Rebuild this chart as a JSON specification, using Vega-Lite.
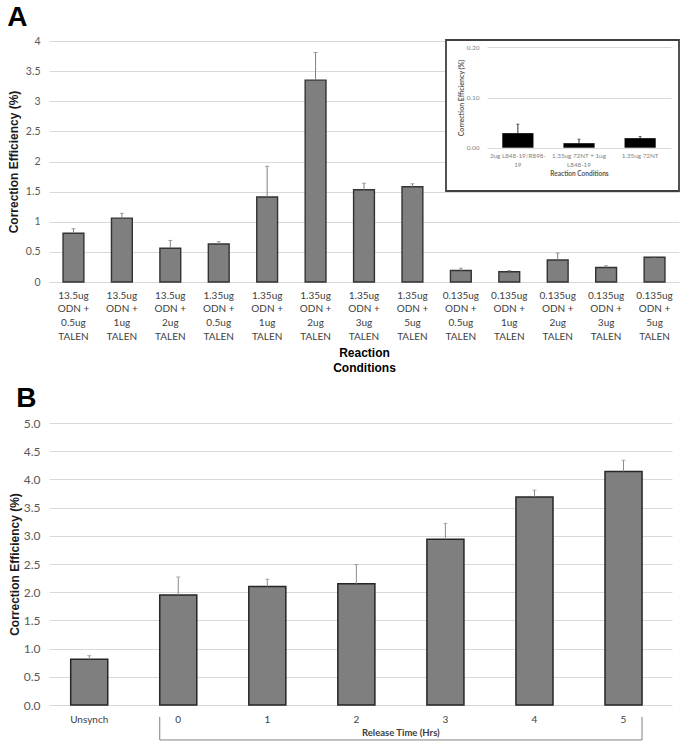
{
  "$schema": "https://vega.github.io/schema/vega-lite/v6.json",
  "background": "white",
  "padding": {"left": 7, "top": 4, "right": 0, "bottom": 4},
  "config": {
    "view": {"stroke": null},
    "axis": {"labelFont": "Lato", "titleFont": "Liberation Sans"}
  },
  "datasets": {
    "panelA": [
      {"condition": "13.5ug ODN + 0.5ug TALEN", "value": 0.81, "upper": 0.885},
      {"condition": "13.5ug ODN + 1ug TALEN", "value": 1.06, "upper": 1.14},
      {"condition": "13.5ug ODN + 2ug TALEN", "value": 0.56, "upper": 0.69},
      {"condition": "1.35ug ODN + 0.5ug TALEN", "value": 0.63, "upper": 0.67},
      {"condition": "1.35ug ODN + 1ug TALEN", "value": 1.41, "upper": 1.92},
      {"condition": "1.35ug ODN + 2ug TALEN", "value": 3.35, "upper": 3.81},
      {"condition": "1.35ug ODN + 3ug TALEN", "value": 1.53, "upper": 1.64},
      {"condition": "1.35ug ODN + 5ug TALEN", "value": 1.58, "upper": 1.63},
      {"condition": "0.135ug ODN + 0.5ug TALEN", "value": 0.19, "upper": 0.23},
      {"condition": "0.135ug ODN + 1ug TALEN", "value": 0.17, "upper": 0.19},
      {"condition": "0.135ug ODN + 2ug TALEN", "value": 0.365, "upper": 0.48},
      {"condition": "0.135ug ODN + 3ug TALEN", "value": 0.24, "upper": 0.27},
      {"condition": "0.135ug ODN + 5ug TALEN", "value": 0.41, "upper": 0.415}
    ],
    "inset": [
      {"condition": "2ug L848-19/R898-19", "value": 0.029, "upper": 0.047},
      {"condition": "1.35ug 72NT + 1ug L848-19", "value": 0.009, "upper": 0.017},
      {"condition": "1.35ug 72NT", "value": 0.019, "upper": 0.022}
    ],
    "panelB": [
      {"time": "Unsynch", "value": 0.81, "upper": 0.875},
      {"time": "0", "value": 1.95, "upper": 2.27},
      {"time": "1", "value": 2.10, "upper": 2.23},
      {"time": "2", "value": 2.15, "upper": 2.49},
      {"time": "3", "value": 2.94, "upper": 3.22},
      {"time": "4", "value": 3.69, "upper": 3.81},
      {"time": "5", "value": 4.14, "upper": 4.34}
    ]
  },
  "columns": 1,
  "align": "none",
  "spacing": 11,
  "concat": [
    {
      "title": {"text": "A", "anchor": "start", "font": "Liberation Sans", "fontSize": 28, "fontWeight": "bold", "color": "black", "offset": 4},
      "width": 630,
      "height": 241,
      "resolve": {"scale": {"x": "independent", "y": "independent"}, "axis": {"x": "independent", "y": "independent"}},
      "layer": [
        {
          "data": {"name": "panelA"},
          "encoding": {
            "x": {
              "field": "condition", "type": "nominal", "sort": null,
              "scale": {"paddingInner": 0.57, "paddingOuter": 0.29},
              "axis": {
                "labelExpr": "[split(datum.value, ' ')[0], split(datum.value, ' ')[1] + ' +', split(datum.value, ' ')[3], split(datum.value, ' ')[4]]",
                "labelAngle": 0, "labelFontSize": 10, "labelColor": "#404040", "labelLineHeight": 13.7,
                "labelPadding": 8, "labelOverlap": false, "labelBound": false,
                "ticks": false, "domain": false, "grid": false,
                "title": ["Reaction", "Conditions"], "titleFontSize": 12, "titleFontWeight": "bold",
                "titleColor": "black", "titleLineHeight": 15.3, "titlePadding": 6
              }
            }
          },
          "layer": [
            {
              "mark": {"type": "bar", "fill": "#7f7f7f", "stroke": "#333333", "strokeWidth": 1.4},
              "encoding": {
                "y": {
                  "field": "value", "type": "quantitative",
                  "scale": {"domain": [0, 4], "nice": false},
                  "axis": {
                    "orient": "left", "values": [0, 0.5, 1, 1.5, 2, 2.5, 3, 3.5, 4], "format": "~g",
                    "labelFontSize": 10.5, "labelColor": "#595959", "labelPadding": 9,
                    "ticks": false, "domain": false, "gridColor": "#d9d9d9",
                    "title": "Correction Efficiency (%)", "titleFontSize": 12, "titleFontWeight": "bold",
                    "titleColor": "#1a1a1a", "titlePadding": 5
                  }
                }
              }
            },
            {
              "mark": {"type": "rule", "color": "#7f7f7f", "strokeWidth": 1},
              "encoding": {
                "y": {
                  "field": "value", "type": "quantitative",
                  "scale": {"domain": [0, 4], "nice": false},
                  "axis": {
                    "orient": "left", "values": [0, 0.5, 1, 1.5, 2, 2.5, 3, 3.5, 4], "format": "~g",
                    "labelFontSize": 10.5, "labelColor": "#595959", "labelPadding": 9,
                    "ticks": false, "domain": false, "gridColor": "#d9d9d9",
                    "title": "Correction Efficiency (%)", "titleFontSize": 12, "titleFontWeight": "bold",
                    "titleColor": "#1a1a1a", "titlePadding": 5
                  }
                },
                "y2": {"field": "upper"}
              }
            },
            {
              "mark": {"type": "tick", "color": "#7f7f7f", "thickness": 1, "size": 4, "orient": "horizontal"},
              "encoding": {
                "y": {
                  "field": "upper", "type": "quantitative",
                  "scale": {"domain": [0, 4], "nice": false},
                  "axis": {
                    "orient": "left", "values": [0, 0.5, 1, 1.5, 2, 2.5, 3, 3.5, 4], "format": "~g",
                    "labelFontSize": 10.5, "labelColor": "#595959", "labelPadding": 9,
                    "ticks": false, "domain": false, "gridColor": "#d9d9d9",
                    "title": "Correction Efficiency (%)", "titleFontSize": 12, "titleFontWeight": "bold",
                    "titleColor": "#1a1a1a", "titlePadding": 5
                  }
                }
              }
            }
          ]
        },
        {
          "data": {"values": [{}]},
          "mark": {"type": "rect", "fill": "white", "stroke": "#404040", "strokeWidth": 1.8},
          "encoding": {
            "x": {"datum": 0, "type": "quantitative", "scale": {"domain": [0, 1], "range": [397, 630]}, "axis": null},
            "x2": {"datum": 1},
            "y": {"datum": 0, "type": "quantitative", "scale": {"domain": [0, 1], "range": [150, -1]}, "axis": null},
            "y2": {"datum": 1}
          }
        },
        {
          "data": {"name": "inset"},
          "encoding": {
            "x": {
              "field": "condition", "type": "nominal", "sort": null,
              "scale": {"range": [438, 622], "paddingInner": 0.49, "paddingOuter": 0.25},
              "axis": {
                "orient": "bottom", "offset": -134.3, "zindex": 1,
                "labelExpr": "datum.value == '2ug L848-19/R898-19' ? ['2ug L848-19/R898-', '19'] : datum.value == '1.35ug 72NT + 1ug L848-19' ? ['1.35ug 72NT + 1ug', 'L848-19'] : datum.value",
                "labelAngle": 0, "labelFontSize": 6.3, "labelColor": "#7f7f7f", "labelLineHeight": 9,
                "labelPadding": 4.5, "labelOverlap": false, "labelBound": false,
                "ticks": false, "domain": false, "grid": false,
                "title": "Reaction Conditions", "titleFont": "Lato", "titleFontSize": 6.5, "titleFontWeight": "bold",
                "titleColor": "#595959", "titlePadding": 3
              }
            }
          },
          "layer": [
            {
              "mark": {"type": "bar", "fill": "black"},
              "encoding": {
                "y": {
                  "field": "value", "type": "quantitative",
                  "scale": {"domain": [0, 0.2], "range": [106.7, 6.3], "nice": false},
                  "axis": {
                    "orient": "left", "offset": -438, "zindex": 1,
                    "values": [0, 0.1, 0.2], "format": ".2f",
                    "labelFontSize": 6.5, "labelColor": "#7f7f7f", "labelPadding": 8,
                    "ticks": false, "domain": false, "grid": true, "gridColor": "#d9d9d9",
                    "title": "Correction Efficiency (%)", "titleFont": "Lato", "titleFontSize": 7, "titleFontWeight": "bold",
                    "titleColor": "#595959", "titlePadding": 2
                  }
                }
              }
            },
            {
              "mark": {"type": "rule", "color": "black", "strokeWidth": 0.8},
              "encoding": {"y": {"field": "value", "type": "quantitative"}, "y2": {"field": "upper"}}
            },
            {
              "mark": {"type": "tick", "color": "black", "thickness": 0.8, "size": 3, "orient": "horizontal"},
              "encoding": {"y": {"field": "upper", "type": "quantitative"}}
            }
          ]
        }
      ]
    },
    {
      "title": {"text": "B", "anchor": "start", "font": "Liberation Sans", "fontSize": 28, "fontWeight": "bold", "color": "black", "offset": 4, "dx": 8},
      "width": 623,
      "height": 282,
      "encoding": {
        "x": {
          "field": "time", "type": "nominal", "sort": null,
          "scale": {"domain": ["Unsynch", "0", "1", "2", "3", "4", "5"], "paddingInner": 0.584, "paddingOuter": 0.29, "align": 0.42},
          "axis": {
            "labelAngle": 0, "labelFontSize": 10, "labelColor": "#404040", "labelPadding": 9,
            "ticks": false, "domain": false, "grid": false, "title": null
          }
        }
      },
      "layer": [
        {
          "data": {"name": "panelB"},
          "mark": {"type": "bar", "fill": "#7f7f7f", "stroke": "#262626", "strokeWidth": 1.5},
          "encoding": {
            "y": {
              "field": "value", "type": "quantitative",
              "scale": {"domain": [0, 5], "nice": false},
              "axis": {
                "values": [0, 0.5, 1, 1.5, 2, 2.5, 3, 3.5, 4, 4.5, 5], "format": ".1f",
                "labelFontSize": 12, "labelColor": "#595959", "labelPadding": 9,
                "ticks": false, "domain": false, "gridColor": "#d9d9d9",
                "title": "Correction Efficiency (%)", "titleFontSize": 12, "titleFontWeight": "bold",
                "titleColor": "#1a1a1a", "titlePadding": 2
              }
            }
          }
        },
        {
          "data": {"name": "panelB"},
          "mark": {"type": "rule", "color": "#8c8c8c", "strokeWidth": 1},
          "encoding": {
            "y": {
              "field": "value", "type": "quantitative",
              "scale": {"domain": [0, 5], "nice": false},
              "axis": {
                "values": [0, 0.5, 1, 1.5, 2, 2.5, 3, 3.5, 4, 4.5, 5], "format": ".1f",
                "labelFontSize": 12, "labelColor": "#595959", "labelPadding": 9,
                "ticks": false, "domain": false, "gridColor": "#d9d9d9",
                "title": "Correction Efficiency (%)", "titleFontSize": 12, "titleFontWeight": "bold",
                "titleColor": "#1a1a1a", "titlePadding": 2
              }
            },
            "y2": {"field": "upper"}
          }
        },
        {
          "data": {"name": "panelB"},
          "mark": {"type": "tick", "color": "#8c8c8c", "thickness": 1, "size": 4, "orient": "horizontal"},
          "encoding": {
            "y": {
              "field": "upper", "type": "quantitative",
              "scale": {"domain": [0, 5], "nice": false},
              "axis": {
                "values": [0, 0.5, 1, 1.5, 2, 2.5, 3, 3.5, 4, 4.5, 5], "format": ".1f",
                "labelFontSize": 12, "labelColor": "#595959", "labelPadding": 9,
                "ticks": false, "domain": false, "gridColor": "#d9d9d9",
                "title": "Correction Efficiency (%)", "titleFontSize": 12, "titleFontWeight": "bold",
                "titleColor": "#1a1a1a", "titlePadding": 2
              }
            }
          }
        },
        {
          "data": {"values": [{}]},
          "mark": {"type": "rule", "color": "#808080", "strokeWidth": 1},
          "encoding": {
            "x": {"datum": "0", "type": "nominal", "bandPosition": 0},
            "y": {
              "datum": -0.21, "type": "quantitative",
              "axis": {
                "values": [0, 0.5, 1, 1.5, 2, 2.5, 3, 3.5, 4, 4.5, 5], "format": ".1f",
                "labelFontSize": 12, "labelColor": "#595959", "labelPadding": 9,
                "ticks": false, "domain": false, "gridColor": "#d9d9d9",
                "title": "Correction Efficiency (%)", "titleFontSize": 12, "titleFontWeight": "bold",
                "titleColor": "#1a1a1a", "titlePadding": 2
              }
            },
            "y2": {"datum": -0.62}
          }
        },
        {
          "data": {"values": [{}]},
          "mark": {"type": "rule", "color": "#808080", "strokeWidth": 1},
          "encoding": {
            "x": {"datum": "5", "type": "nominal", "bandPosition": 1},
            "y": {
              "datum": -0.21, "type": "quantitative",
              "axis": {
                "values": [0, 0.5, 1, 1.5, 2, 2.5, 3, 3.5, 4, 4.5, 5], "format": ".1f",
                "labelFontSize": 12, "labelColor": "#595959", "labelPadding": 9,
                "ticks": false, "domain": false, "gridColor": "#d9d9d9",
                "title": "Correction Efficiency (%)", "titleFontSize": 12, "titleFontWeight": "bold",
                "titleColor": "#1a1a1a", "titlePadding": 2
              }
            },
            "y2": {"datum": -0.62}
          }
        },
        {
          "data": {"values": [{}]},
          "mark": {"type": "rule", "color": "#808080", "strokeWidth": 1},
          "encoding": {
            "x": {"datum": "0", "type": "nominal", "bandPosition": 0},
            "x2": {"datum": "5", "bandPosition": 1},
            "y": {
              "datum": -0.62, "type": "quantitative",
              "axis": {
                "values": [0, 0.5, 1, 1.5, 2, 2.5, 3, 3.5, 4, 4.5, 5], "format": ".1f",
                "labelFontSize": 12, "labelColor": "#595959", "labelPadding": 9,
                "ticks": false, "domain": false, "gridColor": "#d9d9d9",
                "title": "Correction Efficiency (%)", "titleFontSize": 12, "titleFontWeight": "bold",
                "titleColor": "#1a1a1a", "titlePadding": 2
              }
            }
          }
        },
        {
          "data": {"values": [{}]},
          "mark": {"type": "text", "font": "Lato", "fontWeight": "bold", "fontSize": 9.5, "color": "#404040", "baseline": "middle"},
          "encoding": {
            "x": {"datum": "2", "type": "nominal", "bandPosition": 1.7},
            "y": {
              "datum": -0.5, "type": "quantitative",
              "axis": {
                "values": [0, 0.5, 1, 1.5, 2, 2.5, 3, 3.5, 4, 4.5, 5], "format": ".1f",
                "labelFontSize": 12, "labelColor": "#595959", "labelPadding": 9,
                "ticks": false, "domain": false, "gridColor": "#d9d9d9",
                "title": "Correction Efficiency (%)", "titleFontSize": 12, "titleFontWeight": "bold",
                "titleColor": "#1a1a1a", "titlePadding": 2
              }
            },
            "text": {"value": "Release Time (Hrs)"}
          }
        }
      ]
    }
  ]
}
